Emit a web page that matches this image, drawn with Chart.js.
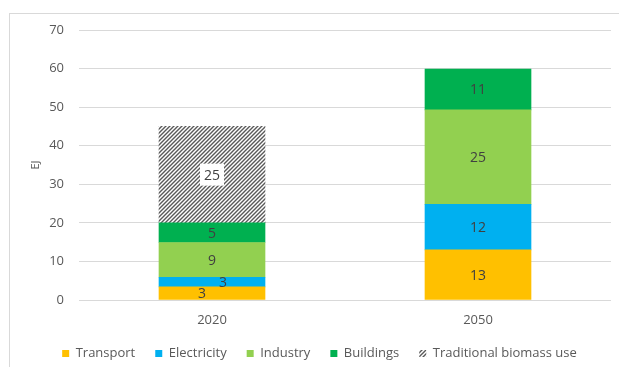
<!DOCTYPE html>
<html>
<head>
<meta charset="utf-8">
<script src="https://cdn.jsdelivr.net/npm/chart.js@4/dist/chart.umd.min.js"></script>
<style>
  html, body { margin: 0; padding: 0; background: #fff; }
  body { width: 619px; height: 367px; position: relative; overflow: hidden; }
  #frame { position: absolute; left: 9px; top: 13px; width: 640px; height: 400px; border: 1px solid #d9d9d9; box-sizing: border-box; }
  #wrap { position: absolute; left: 0; top: 0; width: 619px; height: 367px; }
</style>
</head>
<body>
<div id="frame"></div>
<div id="wrap"><canvas id="c" width="619" height="367"></canvas></div>
<script>
const categories = ['2020', '2050'];
const transport   = [3.4, 13];
const electricity = [2.5, 11.8];
const industry    = [9.0, 24.5];
const buildings   = [5.1, 10.6];
const traditional = [25, null];
const yTicks = [0, 10, 20, 30, 40, 50, 60, 70];

function hatch() {
  const s = 4;
  const c = document.createElement('canvas');
  c.width = s; c.height = s;
  const g = c.getContext('2d');
  g.fillStyle = '#ffffff';
  g.fillRect(0, 0, s, s);
  g.strokeStyle = '#595959';
  g.lineWidth = 1.4;
  g.beginPath();
  g.moveTo(-1, s + 1); g.lineTo(s + 1, -1);
  g.moveTo(-1, 1); g.lineTo(1, -1);
  g.moveTo(s - 1, s + 1); g.lineTo(s + 1, s - 1);
  g.stroke();
  return g.createPattern(c, 'repeat');
}
const hatchPattern = hatch();

const labelPlugin = {
  id: 'segLabels',
  afterDatasetsDraw(chart, args, opts) {
    const ctx = chart.ctx;
    ctx.save();
    ctx.font = '14px "Open Sans"';
    ctx.textAlign = 'center';
    ctx.textBaseline = 'middle';
    chart.data.datasets.forEach((ds, di) => {
      const meta = chart.getDatasetMeta(di);
      meta.data.forEach((el, i) => {
        const v = ds.data[i];
        if (v === null || v === undefined || v === 0) return;
        const t = String(Math.round(v));
        const off = (opts.offsets[di + '-' + i]) || 0;
        const x = el.x + off;
        const y = (el.y + el.base) / 2;
        if (ds.boxLabel) {
          const w = ctx.measureText(t).width + 8;
          ctx.fillStyle = '#ffffff';
          ctx.fillRect(x - w / 2, y - 11, w, 22);
        }
        ctx.fillStyle = '#404040';
        ctx.fillText(t, x, y + 1);
      });
    });
    ctx.restore();
  }
};

new Chart(document.getElementById('c'), {
  type: 'bar',
  data: {
    labels: categories,
    datasets: [
      { label: 'Transport', data: transport, backgroundColor: '#FFC000' },
      { label: 'Electricity', data: electricity, backgroundColor: '#00B0F0' },
      { label: 'Industry', data: industry, backgroundColor: '#92D050' },
      { label: 'Buildings', data: buildings, backgroundColor: '#00B050' },
      { label: 'Traditional biomass use', data: traditional, backgroundColor: hatchPattern, boxLabel: true }
    ]
  },
  options: {
    responsive: false,
    animation: false,
    barThickness: 106,
    layout: { padding: { top: 30, right: 8, left: 28, bottom: -3 } },
    scales: {
      x: {
        stacked: true,
        grid: { display: false, drawTicks: false },
        border: { display: false },
        afterFit(scale) { scale.height = 27; },
        ticks: {
          color: '#595959',
          font: { family: 'Open Sans', size: 13, lineHeight: 1 },
          padding: 14,
          maxRotation: 0
        }
      },
      y: {
        stacked: true,
        min: 0,
        max: 70,
        afterBuildTicks(scale) { scale.ticks = yTicks.map(v => ({ value: v })); },
        afterFit(scale) { scale.width = 51; },
        grid: { color: '#d9d9d9', drawTicks: false },
        border: { display: false },
        ticks: {
          color: '#595959',
          font: { family: 'Open Sans', size: 13 },
          padding: 15
        },
        title: {
          display: true,
          text: 'EJ',
          color: '#595959',
          font: { family: 'Open Sans', size: 11 },
          padding: { top: 1, bottom: 7 }
        }
      }
    },
    plugins: {
      legend: {
        position: 'bottom',
        labels: {
          boxWidth: 7,
          boxHeight: 7,
          padding: 20,
          color: '#595959',
          font: { family: 'Open Sans', size: 13 }
        }
      },
      tooltip: { enabled: false },
      segLabels: { offsets: { '0-0': -10, '1-0': 11 } }
    }
  },
  plugins: [labelPlugin]
});
</script>
</body>
</html>
